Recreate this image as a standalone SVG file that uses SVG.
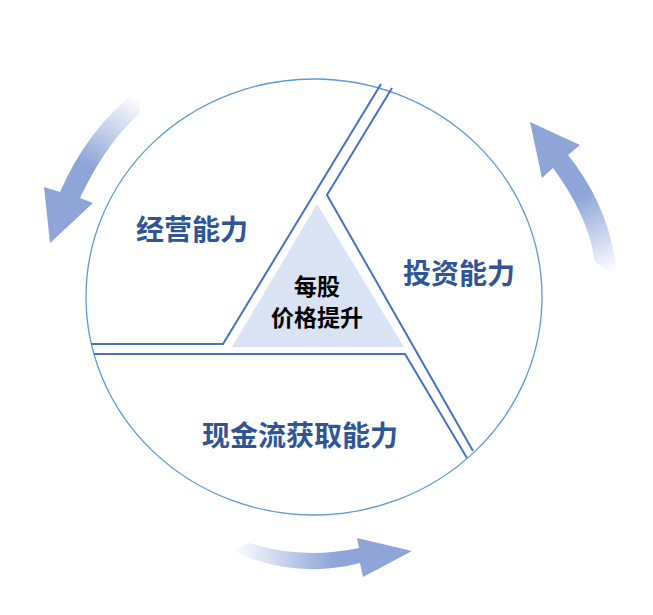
<svg xmlns="http://www.w3.org/2000/svg" width="653" height="615" viewBox="0 0 653 615">
<style>
.seg{fill:none;stroke:#4472C4;stroke-width:2;stroke-linejoin:miter}
.lbl{font-family:"Noto Sans CJK SC",sans-serif;font-weight:bold;font-size:28px;fill:#2F5597}
.ctr{font-family:"Noto Sans CJK SC",sans-serif;font-weight:bold;font-size:23px;fill:#000}
</style>
<defs>
<linearGradient id="gL" gradientUnits="userSpaceOnUse" x1="135" y1="95" x2="75" y2="200">
<stop offset="0" stop-color="#8FA5D7" stop-opacity="0"/><stop offset="0.7" stop-color="#8FA5D7"/></linearGradient>
<linearGradient id="gR" gradientUnits="userSpaceOnUse" x1="610" y1="275" x2="560" y2="165">
<stop offset="0" stop-color="#8FA5D7" stop-opacity="0"/><stop offset="0.7" stop-color="#8FA5D7"/></linearGradient>
<linearGradient id="gB" gradientUnits="userSpaceOnUse" x1="232" y1="550" x2="360" y2="558">
<stop offset="0" stop-color="#8FA5D7" stop-opacity="0"/><stop offset="0.8" stop-color="#8FA5D7"/></linearGradient>
</defs>
<g id="arrows">
<path d="M138,90 Q88,128 60,192 L44,187 L50,243 L93,203 L80,198 Q106,143 140,113 Z" fill="url(#gL)"/>
<path d="M553,168 Q588,215 595,262 L617,277 Q612,210 568,155 L580,145 L530,122 L542,178 Z" fill="url(#gR)"/>
<path d="M230,550 Q295,580 360,563 L363,577 L412,551 L357,538 L359,548 Q300,560 250,543 Z" fill="url(#gB)"/>
</g>
<g id="circle"><ellipse cx="314" cy="297" rx="228" ry="218" fill="none" stroke="#5B9BD5" stroke-width="1.3"/></g>
<g id="connectors">
<path class="seg" d="M381,84 L223,344 L91,344"/>
<path class="seg" d="M392,88 L327,195 L473,451"/>
<path class="seg" d="M94,354 L405,354 L467,458"/>
</g>
<g id="center">
<polygon points="317,204 232,347 404,347" fill="#DAE3F3"/>
<text class="ctr" x="317" y="295" text-anchor="middle">每股</text>
<text class="ctr" x="317" y="326" text-anchor="middle">价格提升</text>
</g>
<g id="n1"><text class="lbl" x="192" y="240" text-anchor="middle">经营能力</text></g>
<g id="n2"><text class="lbl" x="459" y="284" text-anchor="middle">投资能力</text></g>
<g id="n3"><text class="lbl" x="300" y="446" text-anchor="middle">现金流获取能力</text></g>
</svg>
